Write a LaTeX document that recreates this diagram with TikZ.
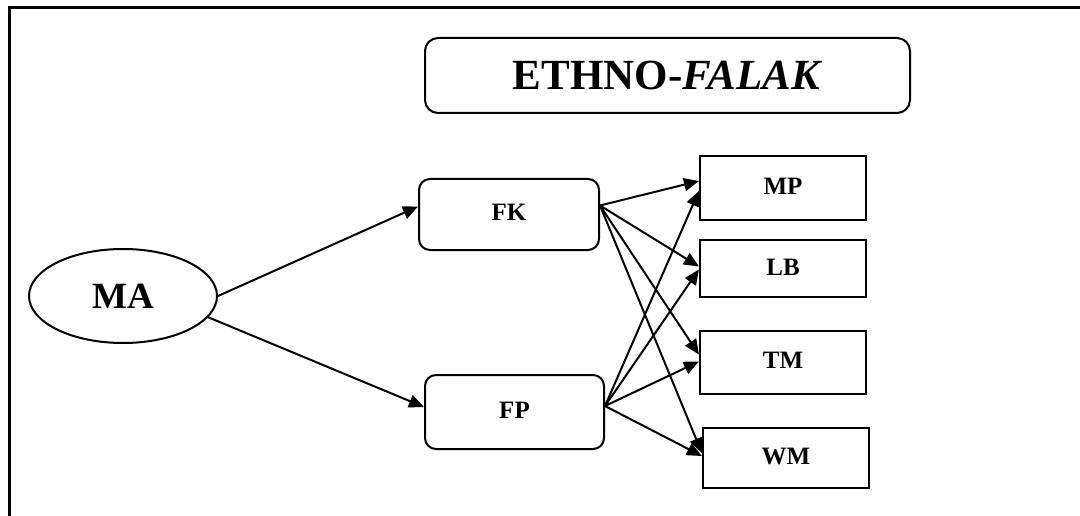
\documentclass[tikz,border=0pt]{standalone}
\usepackage{fontspec}
\setmainfont{Liberation Serif}
\usetikzlibrary{arrows.meta,shapes.geometric}
\tikzset{
  rbox/.style={draw,line width=2pt,rounded corners=11pt,inner sep=0pt,font=\bfseries\fontsize{25}{30}\selectfont},
  sbox/.style={draw,line width=2.2pt,inner sep=0pt,minimum width=166pt,font=\bfseries\fontsize{25}{30}\selectfont},
  conn/.style={line width=2pt,-{Triangle[length=15pt,width=13pt]}},
}
\begin{document}
\begin{tikzpicture}[x=1pt,y=-1pt]
\useasboundingbox (0,0) rectangle (1080,516);
\draw[line width=3pt] (9,516) -- (9,8) -- (1080,8);
\node[rbox,minimum width=485pt,minimum height=75pt,rounded corners=13pt,font=\bfseries\fontsize{43}{50}\selectfont] (title) at (667.5,75.5) {\raisebox{-2pt}{ETHNO-\textit{FALAK}}};
\node[draw,ellipse,line width=2pt,minimum width=188pt,minimum height=94pt,inner sep=0pt,font=\bfseries\fontsize{37}{44}\selectfont] (MA) at (123,296) {MA};
\node[rbox,minimum width=180pt,minimum height=71pt] (FK) at (509,214.5) {\raisebox{5pt}{FK}\hspace{16pt}};
\node[rbox,minimum width=179pt,minimum height=74pt] (FP) at (514.5,412) {\raisebox{3pt}{FP}\hspace{10pt}};
\node[sbox,minimum height=64pt] (MP) at (783,188) {\raisebox{4pt}{MP}};
\node[sbox,minimum height=57pt] (LB) at (783,268.5) {\raisebox{2pt}{LB}};
\node[sbox,minimum height=63pt] (TM) at (783,362.5) {\raisebox{5pt}{TM}};
\node[sbox,minimum height=60pt] (WM) at (786,458) {\raisebox{3pt}{WM}};
\draw[conn] (MA.east) -- ([yshift=8pt]FK.west);
\draw[conn] (MA.-14) -- ([yshift=5pt]FP.west);
\foreach \t/\s in {MP/7,LB/2,TM/8,WM/5}{
  \draw[conn] ([yshift=9pt]FK.east) -- ([yshift=\s pt]\t.west);
}
\foreach \t/\s in {MP/-3,LB/-1,TM/1,WM/2}{
  \draw[conn] ([yshift=6pt]FP.east) -- ([yshift=\s pt]\t.west);
}
\end{tikzpicture}
\end{document}
